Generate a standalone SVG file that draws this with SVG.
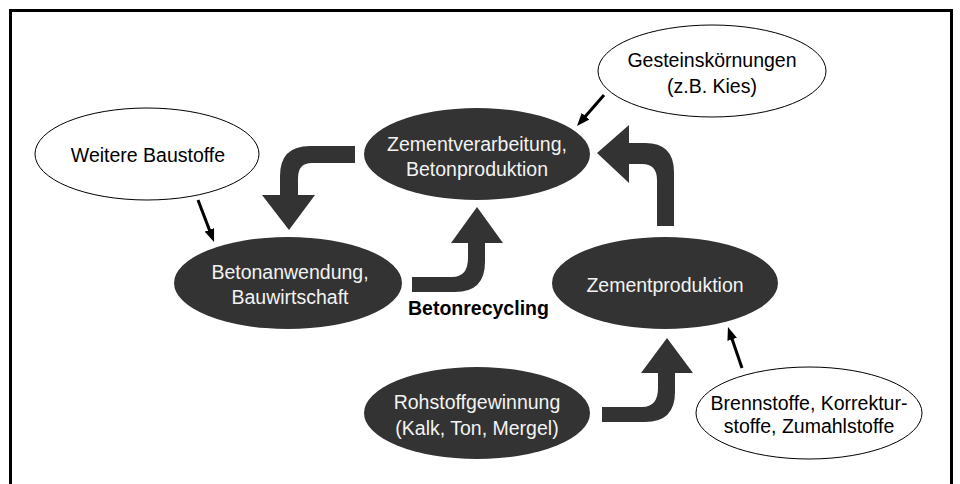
<svg xmlns="http://www.w3.org/2000/svg" width="960" height="484" viewBox="0 0 960 484">
<defs>
<style>
.dark{fill:#333333;stroke:none}
.light{fill:#ffffff;stroke:#000000;stroke-width:1}
.tw{font-family:"Liberation Sans",Arial,sans-serif;font-size:19.5px;fill:#f2f2f2;text-anchor:middle}
.tb{font-family:"Liberation Sans",Arial,sans-serif;font-size:19.5px;fill:#000000;text-anchor:middle}
.thin{stroke:#000000;stroke-width:3;fill:none;marker-end:url(#ah)}
.block{fill:#333333;stroke:none}
</style>
<marker id="ah" viewBox="0 0 13 10" refX="7" refY="5" markerWidth="13" markerHeight="10" markerUnits="userSpaceOnUse" orient="auto">
<path d="M0,0 L13,5 L0,10 Z" fill="#000000"/>
</marker>
</defs>
<rect x="0" y="0" width="960" height="484" fill="#ffffff"/>
<path d="M10.5,500 L10.5,10.5 L951.5,10.5 L951.5,500" fill="none" stroke="#000000" stroke-width="3"/>

<g id="connectors">
<path class="block" d="M355,146 L310,146 Q280,146 280,176 L280,195 L262,195 L289,230 L315,195 L298,195 L298,178 Q298,163 312,163 L355,163 Z"/>
<path class="block" d="M412,277 L452,277 Q468,277 468,258 L468,243 L451,243 L477,207 L503,243 L485,243 L485,262 Q485,292 455,292 L412,292 Z"/>
<path class="block" d="M597,153 L629,125 L629,143 L645,143 Q674,143 674,172 L674,226 L657,226 L657,180 Q657,164 642,164 L629,164 L629,183 Z"/>
<path class="block" d="M602,407 L642,407 Q658,407 658,388 L658,373 L641,373 L667,338 L693,373 L675,373 L675,392 Q675,422 645,422 L602,422 Z"/>
<line class="thin" x1="198" y1="200" x2="211.9" y2="236.4"/>
<line class="thin" x1="604" y1="95" x2="580.9" y2="121.5"/>
<line class="thin" x1="742" y1="368" x2="729.9" y2="332.7"/>
</g>

<g id="weitere-baustoffe">
<ellipse class="light" cx="147" cy="154" rx="112" ry="46"/>
<text class="tb" x="148" y="162">Weitere Baustoffe</text>
</g>
<g id="zementverarbeitung">
<ellipse class="dark" cx="477" cy="154" rx="113" ry="46"/>
<text class="tw" x="477" y="151">Zementverarbeitung,</text>
<text class="tw" x="477" y="176">Betonproduktion</text>
</g>
<g id="gesteinskoernungen">
<ellipse class="light" cx="712" cy="71" rx="114" ry="46"/>
<text class="tb" x="712" y="67">Gesteinskörnungen</text>
<text class="tb" x="712" y="93">(z.B. Kies)</text>
</g>
<g id="betonanwendung">
<ellipse class="dark" cx="288" cy="283" rx="114" ry="46"/>
<text class="tw" x="290" y="279">Betonanwendung,</text>
<text class="tw" x="290" y="304">Bauwirtschaft</text>
</g>
<g id="zementproduktion">
<ellipse class="dark" cx="665" cy="283" rx="113" ry="46"/>
<text class="tw" x="665" y="292">Zementproduktion</text>
</g>
<g id="rohstoffgewinnung">
<ellipse class="dark" cx="477" cy="413" rx="113" ry="46"/>
<text class="tw" x="477" y="409">Rohstoffgewinnung</text>
<text class="tw" x="477" y="435">(Kalk, Ton, Mergel)</text>
</g>
<g id="brennstoffe">
<ellipse class="light" cx="809" cy="413" rx="113" ry="46"/>
<text class="tb" x="809" y="410">Brennstoffe, Korrektur-</text>
<text class="tb" x="809" y="433">stoffe, Zumahlstoffe</text>
</g>
<g id="betonrecycling">
<text x="408" y="315" style="font-family:'Liberation Sans',Arial,sans-serif;font-size:19.5px;font-weight:bold;fill:#000000">Betonrecycling</text>
</g>
</svg>
